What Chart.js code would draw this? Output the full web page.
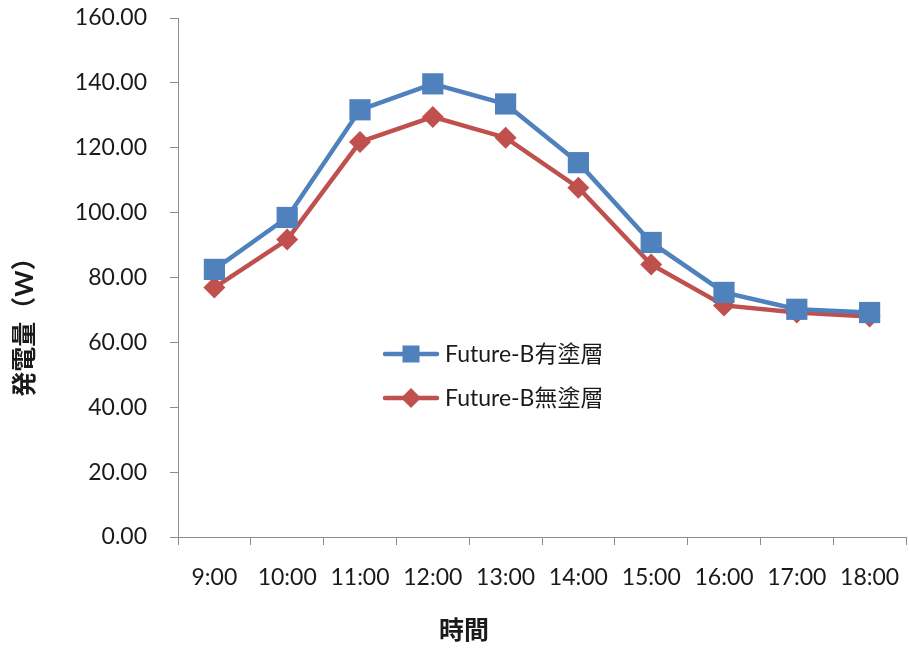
<!DOCTYPE html>
<html>
<head>
<meta charset="utf-8">
<style>
  html, body { margin: 0; padding: 0; background: #ffffff; }
  #wrap { position: relative; width: 909px; height: 648px; }
</style>
<script src="https://cdn.jsdelivr.net/npm/chart.js@4/dist/chart.umd.min.js"></script>
</head>
<body>
<div id="wrap"><canvas id="c" width="909" height="648"></canvas></div>
<script>
// Hourly power output (W)
const hours = ['9:00', '10:00', '11:00', '12:00', '13:00', '14:00', '15:00', '16:00', '17:00', '18:00'];
const coatedName = 'Future-B有塗層';
const uncoatedName = 'Future-B無塗層';
const coated = [82.5, 98.5, 131.7, 139.7, 133.5, 115.4, 90.8, 75.4, 70.2, 69.2];
const uncoated = [76.9, 91.7, 121.8, 129.5, 123.1, 107.7, 84.0, 71.4, 69.2, 68.0];
const yTicks = { min: 0, max: 160, step: 20 };
const xTitle = '時間';
const yTitle = '発電量（W）';

const BLUE = '#4F81BD';
const RED = '#C0504D';
const TEXT = '#1a1a1a';
const AXIS = '#8c8c8c';
const FONT = "Lato, 'Noto Sans CJK TC', sans-serif";

// Axis titles and the in-plot legend
const decorations = {
  id: 'decorations',
  afterDraw(chart) {
    const ctx = chart.ctx;
    ctx.save();
    ctx.fillStyle = TEXT;
    ctx.font = "bold 25px " + FONT;
    ctx.textAlign = 'center';
    ctx.textBaseline = 'middle';
    ctx.fillText(xTitle, 464, 631);
    ctx.save();
    ctx.translate(25, 321);
    ctx.rotate(-Math.PI / 2);
    ctx.fillText(yTitle, 0, 0);
    ctx.restore();

    const rows = [
      { y: 354, ds: chart.data.datasets[0] },
      { y: 398, ds: chart.data.datasets[1] }
    ];
    ctx.font = "23px " + FONT;
    ctx.textAlign = 'left';
    rows.forEach(r => {
      const c = r.ds.borderColor;
      ctx.strokeStyle = c;
      ctx.lineWidth = 4.5;
      ctx.lineCap = 'round';
      ctx.beginPath();
      ctx.moveTo(385, r.y);
      ctx.lineTo(437, r.y);
      ctx.stroke();
      ctx.fillStyle = c;
      ctx.beginPath();
      if (r.ds.pointStyle === 'rect') {
        ctx.rect(411 - 8.5, r.y - 8.5, 17, 17);
      } else {
        ctx.moveTo(411, r.y - 10);
        ctx.lineTo(421, r.y);
        ctx.lineTo(411, r.y + 10);
        ctx.lineTo(401, r.y);
        ctx.closePath();
      }
      ctx.fill();
      ctx.fillStyle = TEXT;
      ctx.fillText(r.ds.label, 445, r.y + 1);
    });
    ctx.restore();
  }
};

new Chart(document.getElementById('c'), {
  type: 'line',
  data: {
    labels: hours,
    datasets: [
      {
        label: coatedName,
        data: coated,
        borderColor: BLUE,
        backgroundColor: BLUE,
        borderWidth: 4.5,
        pointStyle: 'rect',
        pointRadius: 15,
        pointBorderWidth: 0,
        pointBackgroundColor: BLUE,
        tension: 0
      },
      {
        label: uncoatedName,
        data: uncoated,
        borderColor: RED,
        backgroundColor: RED,
        borderWidth: 4.5,
        pointStyle: 'rectRot',
        pointRadius: 11,
        pointBorderWidth: 0,
        pointBackgroundColor: RED,
        tension: 0
      }
    ]
  },
  options: {
    responsive: false,
    animation: false,
    devicePixelRatio: 1,
    layout: { autoPadding: false, padding: { top: 18, right: 3, left: 0, bottom: 0 } },
    plugins: {
      legend: { display: false },
      tooltip: { enabled: false }
    },
    scales: {
      x: {
        offset: true,
        grid: {
          display: true,
          offset: true,
          drawOnChartArea: false,
          drawTicks: true,
          tickLength: 8,
          color: AXIS,
          lineWidth: 1
        },
        border: { display: true, color: AXIS, width: 1 },
        ticks: {
          color: TEXT,
          font: { family: FONT, size: 23 },
          padding: 19,
          maxRotation: 0,
          autoSkip: false
        },
        afterFit(scale) {
          scale.height = 111;
          scale.paddingLeft = 0;
          scale.paddingRight = 0;
        }
      },
      y: {
        min: yTicks.min,
        max: yTicks.max,
        grid: {
          display: true,
          drawOnChartArea: false,
          drawTicks: true,
          tickLength: 8,
          color: AXIS,
          lineWidth: 1
        },
        border: { display: true, color: AXIS, width: 1 },
        ticks: {
          stepSize: yTicks.step,
          color: TEXT,
          font: { family: FONT, size: 23 },
          padding: 23,
          callback: v => Number(v).toFixed(2)
        },
        afterFit(scale) {
          scale.width = 178;
          scale.paddingTop = 0;
          scale.paddingBottom = 0;
        }
      }
    }
  },
  plugins: [decorations]
});
</script>
</body>
</html>
